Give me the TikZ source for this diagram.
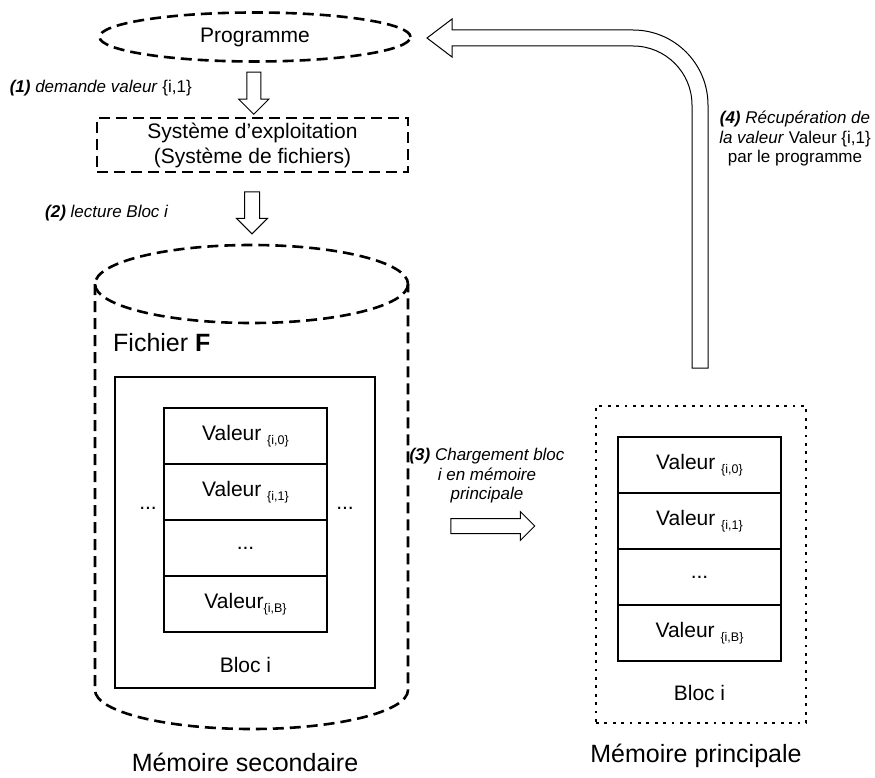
\documentclass[tikz,border=0pt]{standalone}
\usepackage{fontspec}
\setmainfont{Liberation Sans}
\usepackage{tikz}
\usetikzlibrary{shapes.geometric, shapes.arrows, positioning, calc}

\newcommand{\indice}[1]{{\fontsize{12.5}{12.5}\selectfont\raisebox{-3.5pt}{\{#1\}}}}

\begin{document}
\begin{tikzpicture}[x=1pt, y=-1pt,
    every node/.style={font=\fontsize{21}{25}\selectfont},
    tirets/.style={line width=2.6pt, dash pattern=on 11pt off 6pt},
    pointilles/.style={line width=2.8pt, dash pattern=on 2.8pt off 5.6pt},
    cellule/.style={rectangle, draw, line width=2.4pt, minimum width=163pt, minimum height=56pt, inner sep=0pt, outer sep=0pt},
    fleche/.style={single arrow, draw, line width=1pt, fill=white, inner sep=6.5pt, single arrow head extend=8pt},
    etiquette/.style={font=\fontsize{17}{19.5}\selectfont\itshape, inner sep=0pt},
    titre/.style={font=\fontsize{25}{30}\selectfont, inner sep=0pt}]

    \fill[white] (0,0) rectangle (875,778);
    \useasboundingbox (0,0) rectangle (875,778);

    % programme et systeme
    \node [ellipse, draw, tirets, minimum width=311pt, minimum height=49pt, inner sep=0pt] (prog) at (255,37) {Programme};
    \node [rectangle, draw, tirets, minimum width=311pt, minimum height=54pt, inner sep=0pt, align=center] (os) at (252.5,145) {Système d’exploitation\\(Système de fichiers)};

    % memoire secondaire
    \coordinate (cyl) at (251.5,284);
    \coordinate (cylhaut) at (251.5,245);
    \draw [tirets] (cyl) ellipse [x radius=156.5, y radius=39];
    \draw [tirets] (95,284) -- (95,690) arc [start angle=180, end angle=0, x radius=156.5, y radius=39] -- (408,284);
    \node [titre, anchor=west] (fich) at (113,343) {Fichier \textbf{F}};
    \node [rectangle, draw, line width=2pt, minimum width=260pt, minimum height=311pt] (blocF) at (245,532.5) {};
    \node [cellule] (g0) at (245.5,436) {Valeur \indice{i,0}};
    \node [cellule, below=0pt of g0] (g1) {Valeur \indice{i,1}};
    \node [cellule, below=0pt of g1] (g2) {...};
    \node [cellule, below=0pt of g2] (g3) {Valeur\indice{i,B}};
    \node (pg) at (148,508) {...};
    \node (pd) at (345,508) {...};
    \node (blocg) at (245.5,665) {Bloc i};
    \node [titre] (msec) at (245,762) {Mémoire secondaire};

    % memoire principale
    \node [rectangle, draw, pointilles, minimum width=210pt, minimum height=317pt] (mp) at (701,564.5) {};
    \node [cellule] (d0) at (699.5,465) {Valeur \indice{i,0}};
    \node [cellule, below=0pt of d0] (d1) {Valeur \indice{i,1}};
    \node [cellule, below=0pt of d1] (d2) {...};
    \node [cellule, below=0pt of d2] (d3) {Valeur \indice{i,B}};
    \node (blocd) at (699.5,693) {Bloc i};
    \node [titre] (mprinc) at (696,756) {Mémoire principale};

    % fleches
    \node [fleche, rotate=-90, minimum height=42pt] (f1) at ($(prog.south)!0.5!(os.north)$) {};
    \node [fleche, rotate=-90, minimum height=42pt, inner sep=7pt] (f2) at ($(os.south)!0.5!(cylhaut)$) {};
    \node [fleche, minimum height=84pt, inner sep=7pt, single arrow head extend=7pt] (f3) at (489,526) {};
    \draw [line width=1pt, fill=white] (708,368) -- (708,105) arc [start angle=0, end angle=-90, radius=75]
        -- (452,30) -- (452,19) -- (427,38) -- (452,57) -- (452,46) -- (633,46)
        arc [start angle=-90, end angle=0, radius=59] -- (692,368) -- cycle;

    % etiquettes
    \node [etiquette, anchor=east] (e1) at (192,88) {\textbf{(1)} demande valeur \textup{\{i,1\}}};
    \node [etiquette, anchor=west] (e2) at (45,213) {\textbf{(2)} lecture Bloc i};
    \node [etiquette, align=center] (e3) at (487,476) {\textbf{(3)} Chargement bloc\\i en mémoire\\principale};
    \node [etiquette, align=center] (e4) at (795,139) {\textbf{(4)} Récupération de\\la valeur \textup{Valeur \{i,1\}}\\\textup{par le programme}};

\end{tikzpicture}
\end{document}
